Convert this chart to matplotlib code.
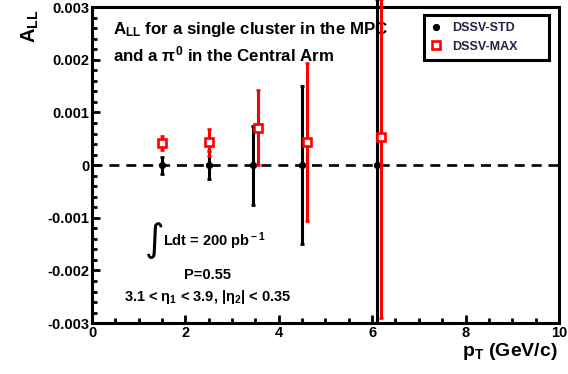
import matplotlib
matplotlib.use("Agg")
import matplotlib.pyplot as plt
from matplotlib.lines import Line2D
from matplotlib.ticker import MultipleLocator
import numpy as np

plt.rcParams['font.family'] = ['Liberation Sans', 'DejaVu Sans']
plt.rcParams['font.weight'] = 'bold'
plt.rcParams['mathtext.fontset'] = 'custom'
plt.rcParams['mathtext.rm'] = 'Liberation Sans:bold'
plt.rcParams['mathtext.it'] = 'Liberation Sans:bold'
plt.rcParams['mathtext.bf'] = 'Liberation Sans:bold'

# DSSV-STD (black)
std_pt = [1.5, 2.5, 3.45, 4.5, 6.1]
std_all = [0.0, 0.0, 0.0, 0.0, 0.0]
std_err_lo = [0.00016, 0.00027, 0.00075, 0.0015, 0.0030]
std_err_hi = [0.00016, 0.00027, 0.00075, 0.0015, 0.00315]

# DSSV-MAX (red)
max_pt = [1.5, 2.5, 3.56, 4.6, 6.19]
max_all = [0.00042, 0.00043, 0.00071, 0.00043, 0.00053]
max_err_lo = [0.00013, 0.00025, 0.00071, 0.0015, 0.00343]
max_err_hi = [0.00013, 0.00025, 0.00071, 0.0015, 0.00262]

fig = plt.figure(figsize=(5.68, 3.74), dpi=100)
ax = fig.add_axes([0.162, 0.136, 0.822, 0.845])

ax.axhline(0, color='black', lw=1.9, ls=(0, (3.8, 2.6)), zorder=1)

ax.errorbar(std_pt, std_all, yerr=[std_err_lo, std_err_hi], fmt='o', color='black',
            ms=4.2, elinewidth=2.2, capsize=1.2, capthick=2, clip_on=False, zorder=3)
ax.errorbar(max_pt, max_all, yerr=[max_err_lo, max_err_hi], fmt='s', color='red',
            mfc='white', mec='red', mew=1.9, ms=6, elinewidth=2.2, capsize=1.2,
            capthick=2, clip_on=False, zorder=4)

ax.set_xlim(0, 10)
ax.set_ylim(-0.003, 0.003)
ax.xaxis.set_major_locator(MultipleLocator(2))
ax.xaxis.set_minor_locator(MultipleLocator(0.5))
ax.yaxis.set_major_locator(MultipleLocator(0.001))
ax.yaxis.set_minor_locator(MultipleLocator(0.0002))
ax.set_yticks([-0.003, -0.002, -0.001, 0, 0.001, 0.002, 0.003])
ax.set_yticklabels(['-0.003', '-0.002', '-0.001', '0', '0.001', '0.002', '0.003'])
ax.set_xticks([0, 2, 4, 6, 8, 10])
ax.set_xticklabels(['0', '2', '4', '6', '8', '10'])

ax.tick_params(which='both', direction='in', width=2, labelsize=10.5, pad=2)
ax.tick_params(which='major', length=6)
ax.tick_params(which='minor', length=3.5)
for s in ax.spines.values():
    s.set_linewidth(2.2)

fig.text(30 / 568, 1 - 9 / 374, r'A$_{\rm LL}$', rotation=90, ha='center', va='top',
         fontsize=14.5)
fig.text(558 / 568, 1 - 352 / 374, r'p$_{\rm T}$ (GeV/c)', ha='right', va='center',
         fontsize=14)

ax.text(0.045, 0.93, r'A$_{\rm LL}$ for a single cluster in the MPC', transform=ax.transAxes,
        fontsize=12.2, va='center', ha='left')
ax.text(0.045, 0.85, r'and a $\pi^0$ in the Central Arm', transform=ax.transAxes,
        fontsize=12.2, va='center', ha='left')

ax.text(0.133, 0.262, '\u222b', transform=ax.transAxes, fontsize=27, va='center',
        ha='center', fontweight='normal', family=['DejaVu Sans'])
ax.text(0.152, 0.258, r'Ldt = 200 pb$^{\rm -1}$', transform=ax.transAxes, fontsize=10.5,
        va='center', ha='left')
ax.text(0.247, 0.152, 'P=0.55', transform=ax.transAxes, fontsize=10.5, va='center',
        ha='center')
ax.text(0.247, 0.083, r'3.1 < $\eta_{\rm 1}$ < 3.9, |$\eta_{\rm 2}$| < 0.35',
        transform=ax.transAxes, fontsize=10.5, va='center', ha='center')

handles = [Line2D([], [], marker='o', color='black', ls='none', ms=4.2),
           Line2D([], [], marker='s', color='red', mfc='white', mec='red', mew=1.9,
                  ls='none', ms=6)]
leg = ax.legend(handles, ['DSSV-STD', 'DSSV-MAX'], loc='upper left',
                bbox_to_anchor=(0.711, 0.835, 0.268, 0.14), mode='expand',
                fontsize=9, fancybox=False, framealpha=1, edgecolor='black',
                handlelength=0.8, handletextpad=0.9, borderpad=0.55,
                labelspacing=0.55, borderaxespad=0)
leg.get_frame().set_linewidth(2.2)
for t in leg.get_texts():
    t.set_color('#222244')

fig.savefig('out.png', dpi=100)
